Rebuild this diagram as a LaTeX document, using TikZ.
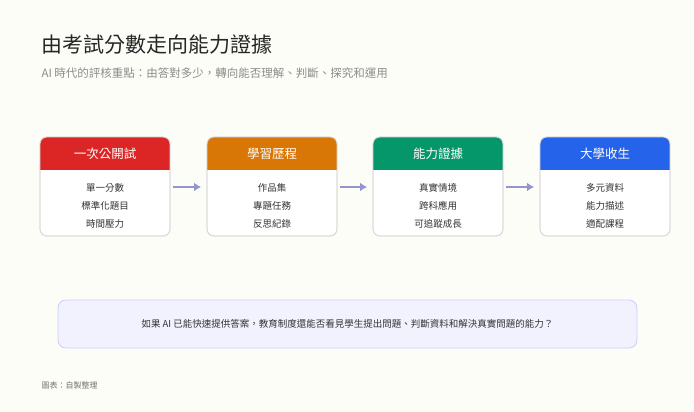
\documentclass[tikz,border=0pt]{standalone}
\usepackage{fontspec}
\setmainfont{Noto Sans CJK TC}
\begin{document}
\begin{tikzpicture}[x=1pt,y=-1pt,
 card/.style={draw=black!15,fill=white,rounded corners=7pt,line width=0.8pt},
 hdr/.style={font=\fontsize{12.5}{14}\selectfont,text=white},
 item/.style={font=\fontsize{9.5}{11}\selectfont,text=black!80},
 arr/.style={draw=gray!60!blue!60,line width=2.2pt,-{Latex[length=7pt,width=9pt]}}]
\usetikzlibrary{arrows.meta}
\fill[black!1!white!98!yellow] (0,0) rectangle (694,412);
\node[anchor=west,font=\fontsize{21}{24}\selectfont,text=black!85] (title) at (38,44) {由考試分數走向能力證據};
\node[anchor=west,font=\fontsize{11.5}{13}\selectfont,text=black!45] (sub) at (38,73) {AI 時代的評核重點：由答對多少，轉向能否理解、判斷、探究和運用};
\definecolor{c1}{HTML}{DC2626}\definecolor{c2}{HTML}{D97706}\definecolor{c3}{HTML}{059669}\definecolor{c4}{HTML}{2563EB}
\foreach \x/\c/\h/\a/\b/\d [count=\i] in {40/c1/一次公開試/單一分數/標準化題目/時間壓力, 207/c2/學習歷程/作品集/專題任務/反思紀錄, 373/c3/能力證據/真實情境/跨科應用/可追蹤成長, 540/c4/大學收生/多元資料/能力描述/適配課程}{
 \draw[card] (\x,137) rectangle ++(130,99);
 \begin{scope}
 \clip[rounded corners=7pt] (\x,137) rectangle ++(130,99);
 \fill[\c] (\x,137) rectangle ++(130,33);
 \end{scope}
 \draw[black!15,line width=0.8pt,rounded corners=7pt] (\x,137) rectangle ++(130,99);
 \node[hdr] (h\i) at (\x+65,154) {\h};
 \node[item] (a\i) at (\x+65,188) {\a};
 \node[item] (b\i) at (\x+65,206) {\b};
 \node[item] (d\i) at (\x+65,224) {\d};
 \coordinate (L\i) at (\x,187);
 \coordinate (R\i) at (\x+130,187);
}
\draw[arr] ([xshift=3pt]R1) -- ([xshift=-6pt]L2);
\draw[arr] ([xshift=3pt]R2) -- ([xshift=-6pt]L3);
\draw[arr] ([xshift=3pt]R3) -- ([xshift=-6pt]L4);
\node[draw=blue!20,fill=blue!5,rounded corners=8pt,line width=0.8pt,minimum width=579pt,minimum height=48pt,font=\fontsize{9.5}{11}\selectfont,text=black!80] (q) at (347.5,324) {如果 AI 已能快速提供答案，教育制度還能否看見學生提出問題、判斷資料和解決真實問題的能力？};
\node[anchor=west,font=\fontsize{8}{10}\selectfont,text=black!55] (src) at (38,385) {圖表：自製整理};
\end{tikzpicture}
\end{document}
